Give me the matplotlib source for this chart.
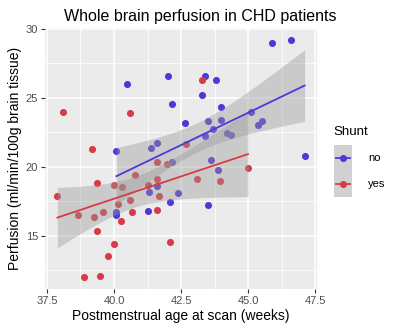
import numpy as np
import matplotlib
matplotlib.use("Agg")
import matplotlib.pyplot as plt
from matplotlib.lines import Line2D

plt.rcParams['font.family'] = ['Liberation Sans', 'DejaVu Sans']

title = "Whole brain perfusion in CHD patients"
xlabel = "Postmenstrual age at scan (weeks)"
ylabel = "Perfusion (ml/min/100g brain tissue)"
legend_title = "Shunt"
groups = ["no", "yes"]

no_age = [40.50, 42.00, 42.17, 42.66, 40.09, 41.39, 41.60, 45.89, 46.59, 43.38,
          43.78, 43.27, 43.99, 43.50, 43.99, 43.67, 43.40, 44.20, 44.35, 45.10,
          45.38, 45.50, 47.10, 43.61, 43.89, 43.50, 42.17, 41.30, 41.61, 42.39,
          42.09, 41.28, 40.09, 40.09]
no_perf = [26.03, 26.59, 24.57, 23.19, 21.15, 21.40, 21.71, 28.97, 29.21, 26.59,
           26.32, 25.20, 24.36, 23.29, 23.39, 22.73, 22.24, 22.45, 22.30, 23.99,
           23.07, 23.31, 20.81, 20.50, 19.79, 17.20, 20.35, 18.19, 18.58, 18.07,
           17.44, 16.80, 16.76, 16.51]

yes_age = [38.11, 40.60, 39.17, 39.38, 40.00, 40.29, 37.89, 40.77, 38.67, 39.27,
           39.60, 40.15, 40.60, 40.67, 40.27, 39.37, 39.99, 39.78, 38.89, 39.49,
           41.28, 41.59, 41.59, 41.98, 41.67, 41.60, 42.09, 43.10, 43.94, 44.99,
           43.27, 42.68]
yes_perf = [23.99, 23.92, 21.26, 18.80, 18.68, 18.53, 17.86, 19.44, 16.51, 16.34,
            16.71, 17.27, 17.60, 16.72, 16.10, 15.37, 14.40, 13.55, 12.02, 12.10,
            18.65, 19.11, 20.35, 20.20, 17.85, 16.85, 14.55, 19.13, 18.94, 19.93,
            26.30, 21.68]

xticks = [37.5, 40.0, 42.5, 45.0, 47.5]
yticks = [15, 20, 25, 30]

colors = {"no": "#5038D8", "yes": "#D63C46"}
data = {"no": (np.array(no_age), np.array(no_perf)),
        "yes": (np.array(yes_age), np.array(yes_perf))}
# t quantiles (0.975) for df = n-2
tq = {32: 2.037, 30: 2.042}

W, H = 400, 333
fig = plt.figure(figsize=(W / 100, H / 100), dpi=100)
L, R, T, B = 45, 317, 28, 289
ax = fig.add_axes([L / W, 1 - B / H, (R - L) / W, (B - T) / H])
ax.set_facecolor("#EBEBEB")
for s in ax.spines.values():
    s.set_visible(False)

ax.set_xlim(37.43, 47.56)
ax.set_ylim(11.14, 30.07)
ax.set_xticks(xticks)
ax.set_xticklabels([f"{t:.1f}" for t in xticks])
ax.set_yticks(yticks)
ax.set_xticks([38.75, 41.25, 43.75, 46.25], minor=True)
ax.set_yticks([12.5, 17.5, 22.5, 27.5], minor=True)
ax.grid(which="major", color="white", lw=1.1)
ax.grid(which="minor", color="white", lw=0.55)
ax.set_axisbelow(True)
ax.tick_params(which="major", length=3, width=0.8, color="#333333",
               labelsize=8, labelcolor="#4D4D4D", pad=2)
ax.tick_params(which="minor", length=0)

for g in groups:
    x, y = data[g]
    ax.scatter(x, y, s=26, color=colors[g], zorder=2, linewidths=0)

for g in groups:
    x, y = data[g]
    n = len(x)
    b, a = np.polyfit(x, y, 1)
    xs = np.linspace(x.min(), x.max(), 80)
    ys = a + b * xs
    resid = y - (a + b * x)
    s = np.sqrt(np.sum(resid ** 2) / (n - 2))
    sxx = np.sum((x - x.mean()) ** 2)
    se = s * np.sqrt(1 / n + (xs - x.mean()) ** 2 / sxx)
    t = tq.get(n - 2, 2.04)
    ax.fill_between(xs, ys - t * se, ys + t * se, color="#999999", alpha=0.4,
                    lw=0, zorder=3)
    ax.plot(xs, ys, color=colors[g], lw=1.3, zorder=4)

ax.set_xlabel(xlabel, fontsize=10, color="black", labelpad=2)
ax.set_ylabel(ylabel, fontsize=10, color="black", labelpad=3)
fig.text(200 / W, 1 - 16 / H, title, ha="center", va="center", fontsize=11.5)

# legend
fig.text(333 / W, 1 - 132 / H, legend_title, ha="left", va="center", fontsize=9.5)
for i, g in enumerate(groups):
    yc = 158 + 26 * i
    kax = fig.add_axes([334 / W, 1 - (yc + 13) / H, 18 / W, 26 / H])
    kax.set_xlim(0, 1)
    kax.set_ylim(0, 1)
    kax.axis("off")
    kax.add_patch(plt.Rectangle((0, 0), 1, 1, color="#D1D1D1", lw=0))
    kax.plot([0.1, 0.9], [0.5, 0.5], color=colors[g], lw=1.3)
    kax.scatter([0.5], [0.5], s=26, color=colors[g], linewidths=0)
    fig.text(368 / W, 1 - yc / H, g, ha="left", va="center", fontsize=8)

fig.savefig("out.png", dpi=100)
